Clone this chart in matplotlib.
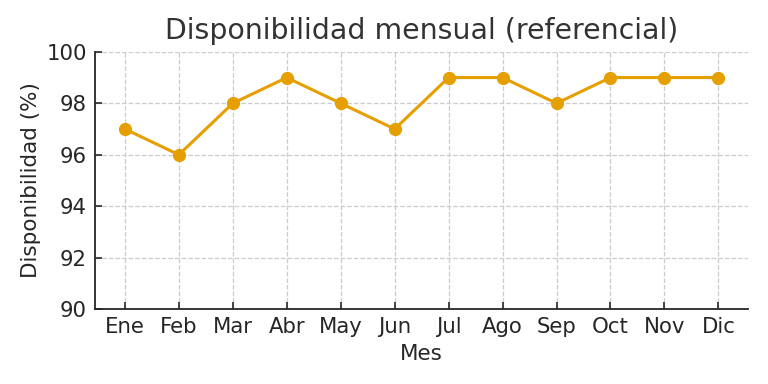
import matplotlib
matplotlib.use('Agg')
import matplotlib.pyplot as plt

meses = ['Ene', 'Feb', 'Mar', 'Abr', 'May', 'Jun', 'Jul', 'Ago', 'Sep', 'Oct', 'Nov', 'Dic']
disponibilidad = [97, 96, 98, 99, 98, 97, 99, 99, 98, 99, 99, 99]

txt = '#262626'

fig = plt.figure(figsize=(7.68, 3.84), dpi=100)
ax = fig.add_axes([0.124, 0.195, 0.85, 0.67])

ax.plot(range(len(meses)), disponibilidad, '-o', color='#E69F00', linewidth=2.2, markersize=8.5)

ax.set_ylim(90, 100)
ax.set_xlim(-0.55, 11.55)
ax.set_xticks(range(len(meses)))
ax.set_xticklabels(meses)
ax.set_yticks([90, 92, 94, 96, 98, 100])

ax.set_title('Disponibilidad mensual (referencial)', fontsize=20.4, color='#333333', pad=9)
ax.set_xlabel('Mes', fontsize=15.5, color=txt, labelpad=5)
ax.set_ylabel('Disponibilidad (%)', fontsize=15.5, color=txt)

ax.tick_params(direction='in', labelsize=15.3, colors=txt, length=5, width=1.2, pad=6)
ax.grid(True, linestyle='--', color='#cccccc', linewidth=0.9)
ax.set_axisbelow(True)
for s in ['top', 'right']:
	ax.spines[s].set_visible(False)
for s in ['left', 'bottom']:
	ax.spines[s].set_color(txt)
	ax.spines[s].set_linewidth(1.3)

plt.savefig('out.png', dpi=100)
